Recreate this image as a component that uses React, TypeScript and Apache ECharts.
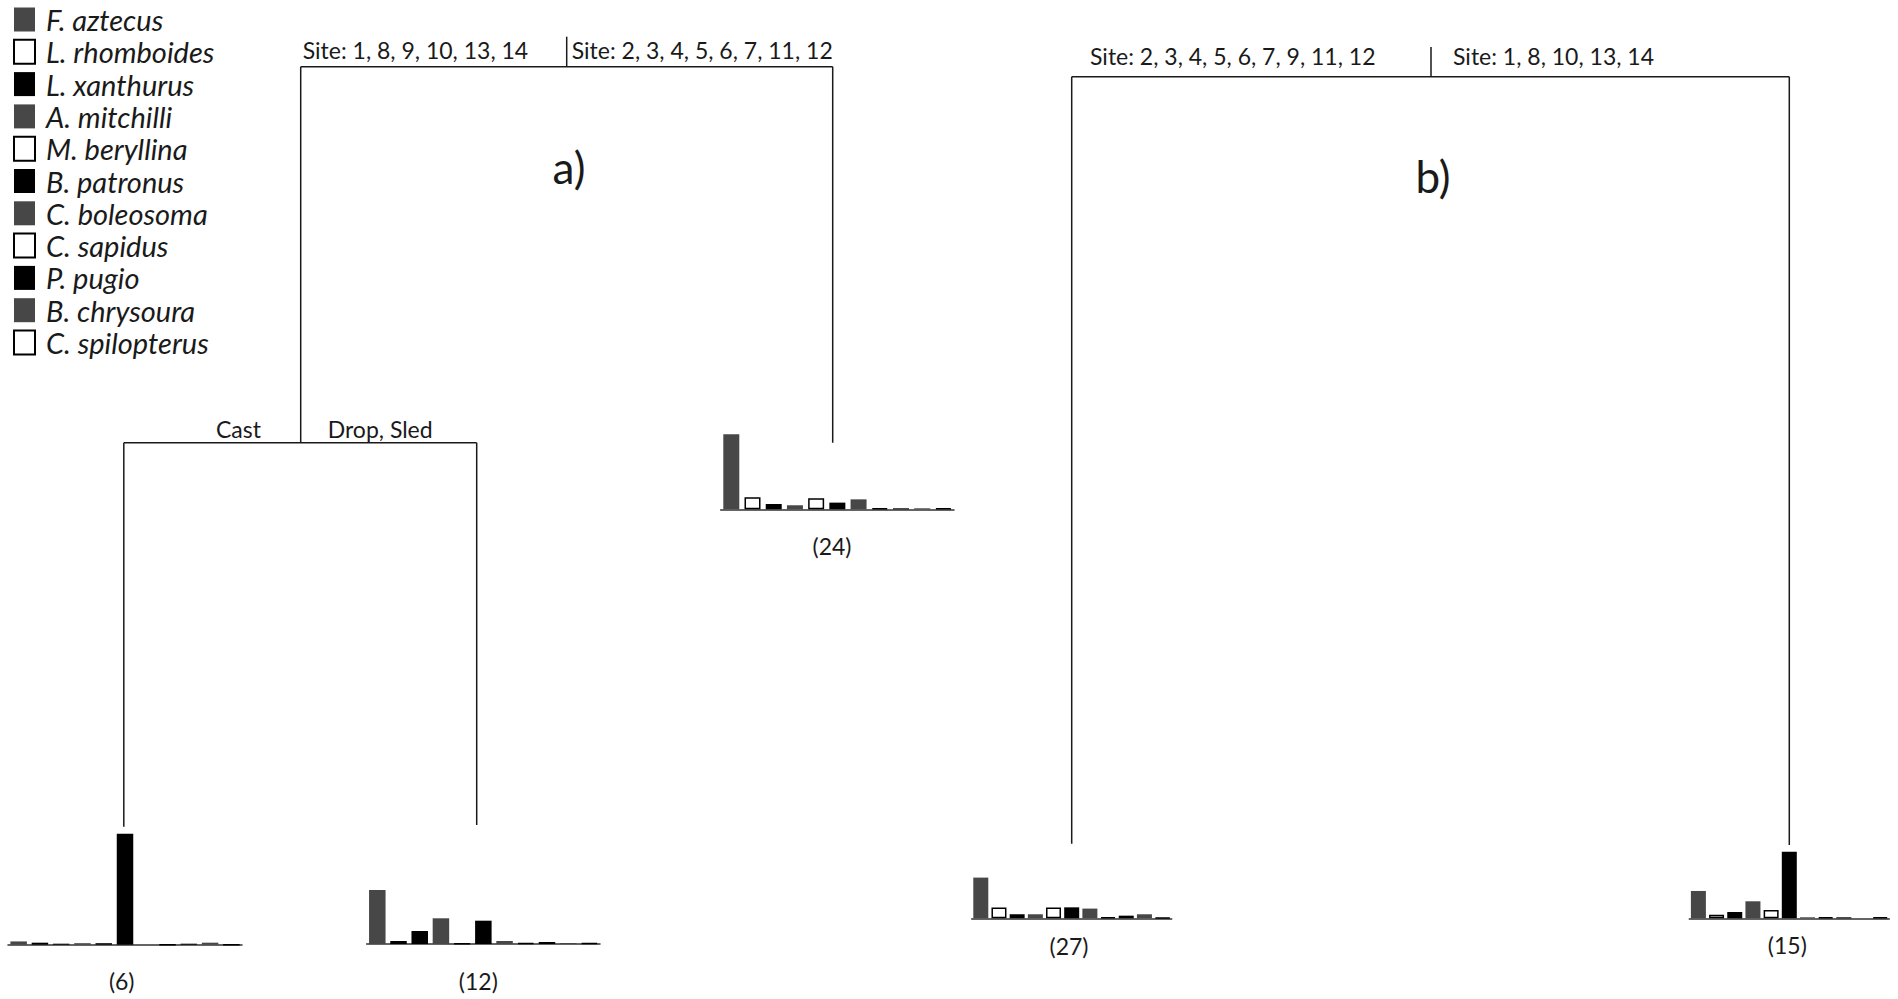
import React, { useEffect, useRef } from "react";
import * as echarts from "echarts";

// ---- data ----
const SPECIES = [
  "F. aztecus",
  "L. rhomboides",
  "L. xanthurus",
  "A. mitchilli",
  "M. beryllina",
  "B. patronus",
  "C. boleosoma",
  "C. sapidus",
  "P. pugio",
  "B. chrysoura",
  "C. spilopterus",
];
// relative abundance (%) of each species in each terminal node
const NODE_CAST = [2.6, 1.6, 0.8, 1.2, 1.2, 88, 0, 0, 0.8, 1.6, 0];
const NODE_DROP_SLED = [42.9, 2.4, 10.3, 20.4, 0.4, 18.5, 2.4, 0.8, 1.6, 0.8, 0.8];
const NODE_A_SITES = [59.5, 9.5, 4.2, 3.2, 8.7, 5.3, 7.9, 0.8, 0.8, 0.8, 0.8];
const NODE_B_LEFT = [32.3, 8.5, 3.2, 3.2, 8.5, 8.7, 7.7, 0.8, 2.1, 3.2, 0.4];
const NODE_B_RIGHT = [21.7, 2.9, 5, 13.5, 6.6, 52.9, 0.8, 0.8, 0.8, 0, 0.8];
const NODE_COUNTS = ["(6)", "(12)", "(24)", "(27)", "(15)"];
const SPLIT_A_LEFT = "Site: 1, 8, 9, 10, 13, 14";
const SPLIT_A_RIGHT = "Site: 2, 3, 4, 5, 6, 7, 11, 12";
const SPLIT_A_SUB_LEFT = "Cast";
const SPLIT_A_SUB_RIGHT = "Drop, Sled";
const SPLIT_B_LEFT = "Site: 2, 3, 4, 5, 6, 7, 9, 11, 12";
const SPLIT_B_RIGHT = "Site: 1, 8, 10, 13, 14";
const PANEL_TITLES = ["a)", "b)"];

// ---- layout / style ----
const FONT = "Lato, 'Open Sans', sans-serif";
const GREY = "#474747";
const TONES = [
  { color: GREY, borderColor: GREY, borderWidth: 0 },
  { color: "#ffffff", borderColor: "#000000", borderWidth: 1.5 },
  { color: "#000000", borderColor: "#000000", borderWidth: 0 },
];
const H = 126; // px for 100 %
const PANELS = [
  { values: NODE_CAST, left: 8, width: 234, base: 944.7, barWidth: 16.5, lx: 121.7, ly: 981 },
  { values: NODE_DROP_SLED, left: 366.7, width: 233.3, base: 944, barWidth: 16.5, lx: 478.3, ly: 981 },
  { values: NODE_A_SITES, left: 720.7, width: 233.3, base: 509.3, barWidth: 16, lx: 832, ly: 546 },
  { values: NODE_B_LEFT, left: 971.7, width: 200, base: 918.3, barWidth: 15, lx: 1069, ly: 946 },
  { values: NODE_B_RIGHT, left: 1689.3, width: 200, base: 918.3, barWidth: 15, lx: 1787.3, ly: 945 },
];
const LINE = { stroke: "#1a1a1a", lineWidth: 1.5 };
const SEGMENTS: number[][] = [
  // tree a
  [300.7, 66.7, 832.7, 66.7],
  [566.7, 36.7, 566.7, 66.7],
  [300.7, 66.7, 300.7, 442.7],
  [832.7, 66.7, 832.7, 442.7],
  [123.8, 442.7, 476.7, 442.7],
  [123.8, 442.7, 123.8, 826.7],
  [476.7, 442.7, 476.7, 825],
  // tree b
  [1071.7, 76.7, 1789.3, 76.7],
  [1431, 47, 1431, 76.7],
  [1071.7, 76.7, 1071.7, 843.7],
  [1789.3, 76.7, 1789.3, 845],
];

function text(t: string, x: number, y: number, size: number, align = "left", italic = false) {
  return {
    type: "text",
    x,
    y,
    silent: true,
    style: {
      text: t,
      fill: "#1a1a1a",
      font: `${italic ? "italic " : ""}${size}px ${FONT}`,
      align,
      verticalAlign: "middle",
    },
  };
}

export default function App() {
  const ref = useRef<HTMLDivElement>(null);
  useEffect(() => {
    if (!ref.current) return;
    const chart = echarts.init(ref.current, undefined, { renderer: "svg" });

    const grids = PANELS.map((p) => ({
      left: p.left,
      top: p.base - H,
      width: p.width,
      height: H,
      containLabel: false,
    }));
    const xAxes = PANELS.map((_, g) => ({
      type: "category",
      gridIndex: g,
      data: SPECIES,
      boundaryGap: true,
      axisLine: { show: true, lineStyle: { color: "#333", width: 1.5 } },
      axisTick: { show: false },
      axisLabel: { show: false },
      splitLine: { show: false },
    }));
    const yAxes = PANELS.map((_, g) => ({
      type: "value",
      gridIndex: g,
      min: 0,
      max: 100,
      show: false,
      splitLine: { show: false },
    }));
    const series: any[] = [];
    PANELS.forEach((p, g) => {
      SPECIES.forEach((name, i) => {
        series.push({
          type: "bar",
          name,
          xAxisIndex: g,
          yAxisIndex: g,
          barWidth: p.barWidth,
          barGap: "-100%",
          itemStyle: TONES[i % 3],
          data: SPECIES.map((_, j) => (j === i ? p.values[i] : "-")),
        });
      });
    });

    const graphics: any[] = [];
    SEGMENTS.forEach((s) =>
      graphics.push({
        type: "line",
        silent: true,
        shape: { x1: s[0], y1: s[1], x2: s[2], y2: s[3] },
        style: LINE,
      })
    );
    graphics.push(text(SPLIT_A_LEFT, 302.7, 50.3, 23));
    graphics.push(text(SPLIT_A_RIGHT, 571.7, 50.3, 23));
    graphics.push(text(SPLIT_A_SUB_LEFT, 261, 428.5, 23, "right"));
    graphics.push(text(SPLIT_A_SUB_RIGHT, 327.7, 428.5, 23));
    graphics.push(text(SPLIT_B_LEFT, 1090, 55.5, 23));
    graphics.push(text(SPLIT_B_RIGHT, 1453, 56, 23));
    graphics.push(text(PANEL_TITLES[0], 569, 167, 44, "center"));
    graphics.push(text(PANEL_TITLES[1], 1433, 176, 44, "center"));
    PANELS.forEach((p, g) => graphics.push(text(NODE_COUNTS[g], p.lx, p.ly, 23, "center")));

    chart.setOption({
      animation: false,
      backgroundColor: "#ffffff",
      legend: {
        show: true,
        orient: "vertical",
        left: 13,
        top: 5,
        padding: 0,
        icon: "rect",
        itemWidth: 21,
        itemHeight: 24,
        itemGap: 3.3,
        selectedMode: false,
        data: SPECIES,
        textStyle: {
          fontFamily: FONT,
          fontStyle: "italic",
          fontSize: 29,
          color: "#1a1a1a",
          padding: [0, 0, 0, 6],
        },
      },
      grid: grids,
      xAxis: xAxes,
      yAxis: yAxes,
      series,
      graphic: graphics,
    });
    return () => chart.dispose();
  }, []);
  return (
    <div
      ref={ref}
      style={{ position: "fixed", left: 0, top: 0, width: 1898, height: 999, background: "#fff" }}
    />
  );
}
